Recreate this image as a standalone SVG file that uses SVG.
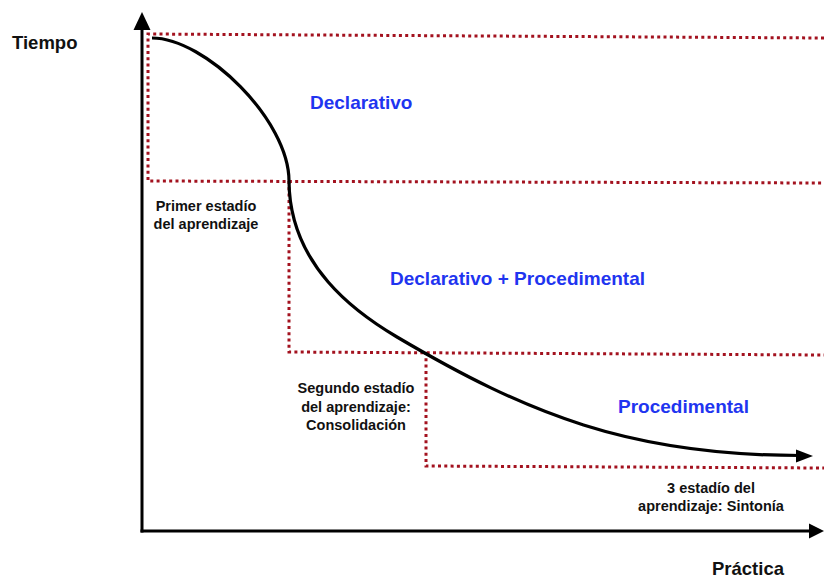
<svg xmlns="http://www.w3.org/2000/svg" width="824" height="578" viewBox="0 0 824 578">
  <style>
    .dots { fill: none; stroke: #a3121f; stroke-width: 3; stroke-dasharray: 3 3.3; }
    .axis { fill: none; stroke: #000; stroke-width: 3; }
    .curve { fill: none; stroke: #000; stroke-width: 3.2; }
    .head { fill: #000; }
    .zone { font-family: "Liberation Sans", Arial, sans-serif; font-weight: bold; font-size: 19px; fill: #1f35f0; }
    .stage { font-family: "Liberation Sans", Arial, sans-serif; font-weight: bold; font-size: 14.5px; fill: #111; text-anchor: middle; }
    .axislabel { font-family: "Liberation Sans", Arial, sans-serif; font-weight: bold; font-size: 18.5px; fill: #111; }
  </style>
  <rect width="824" height="578" fill="#fff"/>

  <!-- dotted stage boundaries -->
  <g id="stage-boundaries">
    <polyline class="dots" points="824,38 148,34 148,181 824,183"/>
    <polyline class="dots" points="289,181 289,352 824,355"/>
    <polyline class="dots" points="426,352 426,466 824,468"/>
  </g>

  <!-- axes and learning curve -->
  <g id="connectors">
    <line class="axis" x1="142" y1="26" x2="142" y2="532.5"/>
    <polygon class="head" points="142,12 133.5,30 150.5,30"/>
    <line class="axis" x1="140.5" y1="531" x2="812" y2="531"/>
    <polygon class="head" points="824,531 809,523.5 809,538.5"/>
    <path class="curve" d="M152,38 C205,38 289,120 289,181 C289.5,266 357,313.4 397,337 C527,413.7 630,455.5 800,455.5"/>
    <polygon class="head" points="813,456 796,449.5 796,462.5"/>
  </g>

  <g id="axis-time">
    <text class="axislabel" x="12" y="49">Tiempo</text>
  </g>
  <g id="axis-practice">
    <text class="axislabel" x="712" y="575">Práctica</text>
  </g>

  <g id="zone-declarative">
    <text class="zone" x="310" y="109">Declarativo</text>
  </g>
  <g id="zone-mixed">
    <text class="zone" x="390" y="285">Declarativo + Procedimental</text>
  </g>
  <g id="zone-procedural">
    <text class="zone" x="618" y="413">Procedimental</text>
  </g>

  <g id="stage-1">
    <text class="stage" x="206" y="211">Primer estadío</text>
    <text class="stage" x="206" y="229">del aprendizaje</text>
  </g>
  <g id="stage-2">
    <text class="stage" x="356" y="393">Segundo estadío</text>
    <text class="stage" x="356" y="412">del aprendizaje:</text>
    <text class="stage" x="356" y="430">Consolidación</text>
  </g>
  <g id="stage-3">
    <text class="stage" x="711" y="493">3 estadío del</text>
    <text class="stage" x="711" y="511">aprendizaje: Sintonía</text>
  </g>
</svg>
